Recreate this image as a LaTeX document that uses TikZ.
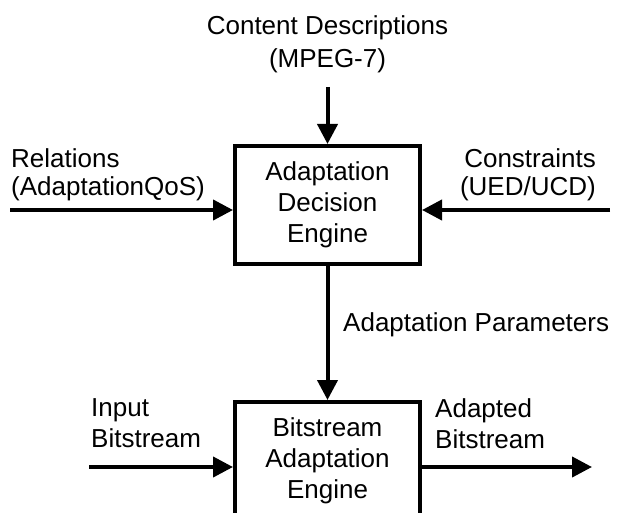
\documentclass[tikz,border=0pt]{standalone}
\usepackage{fontspec}
\setmainfont{Liberation Sans}
\usetikzlibrary{arrows.meta}
\usetikzlibrary{calc}
\usetikzlibrary{positioning}

\tikzset{
  engine/.style={draw, line width=4pt, minimum width=185pt, minimum height=118pt,
    align=center, inner sep=0pt, font=\fontsize{26}{31}\selectfont},
  lbl/.style={inner sep=0pt, font=\fontsize{26}{31}\selectfont},
  flow/.style={line width=4pt, -{Triangle[length=20pt,width=20pt]}}
}

\begin{document}
\begin{tikzpicture}[x=1pt,y=1pt]
\useasboundingbox (0,0) rectangle (617,512);

% engines
\node[engine] (ade) at (327.5,307) {Adaptation\\Decision\\Engine};
\node[engine] (bae) at (327.5,51) {Bitstream\\Adaptation\\Engine};

% inputs of the decision engine
\node[lbl,align=center] (cd) at (327.5,468) {Content Descriptions\\[2pt](MPEG-7)};
\node[lbl,align=left,anchor=west] (rel) at (11,337.5) {Relations\\[-3pt](AdaptationQoS)};
\node[lbl,align=right,anchor=east] (con) at (596,337.5) {Constraints\\[-3pt](UED/UCD)};
\node[lbl,anchor=base west] (ap) at (343,181) {Adaptation Parameters};

% bitstream in and out
\node[lbl,align=left,anchor=west] (ib) at (91,88.5) {Input\\Bitstream};
\node[lbl,align=left,anchor=west] (ab) at (435,88.5) {Adapted\\Bitstream};

\coordinate (cdin) at (327.5,425);
\coordinate (relin) at (10,302);
\coordinate (conin) at (610,302);
\coordinate (ibin) at (89,45);
\coordinate (about) at (592,45);

\draw[flow] (cdin) -- (ade.north);
\draw[flow] (relin) -- (relin -| ade.west);
\draw[flow] (conin) -- (conin -| ade.east);
\draw[flow] (ade.south) -- (bae.north); %parameters
\draw[flow] (ibin) -- (ibin -| bae.west);
\draw[flow] (ibin -| bae.east) -- (about);
\end{tikzpicture}
\end{document}
